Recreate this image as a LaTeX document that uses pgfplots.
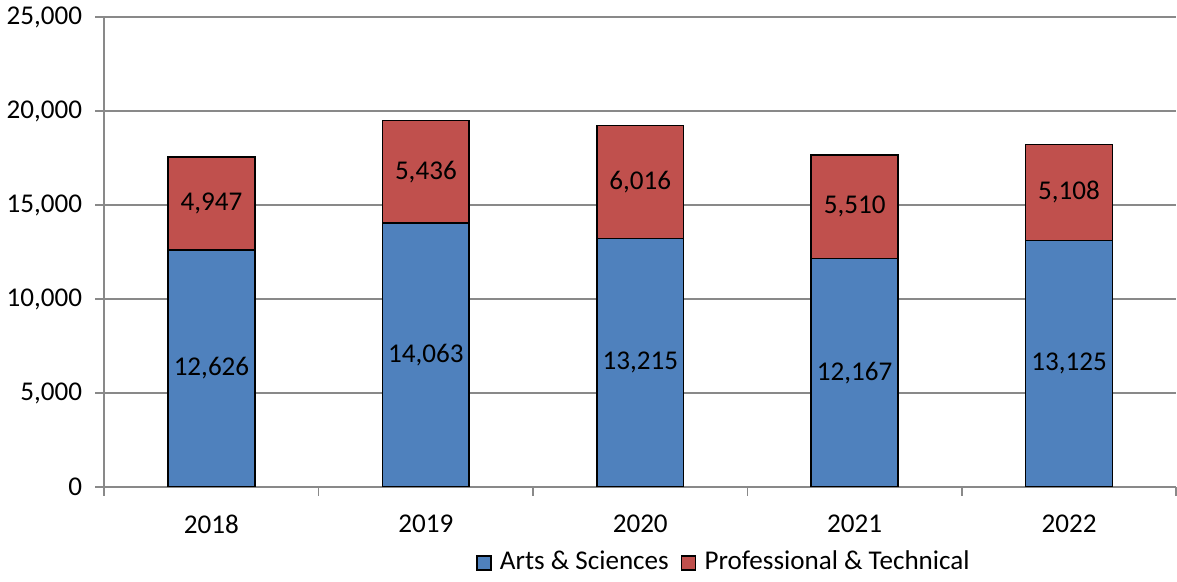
\documentclass[border=0pt]{standalone}
\usepackage{pgfplots}
\pgfplotsset{compat=1.18}
\usepackage{fontspec}
\setmainfont{Carlito}
\definecolor{asblue}{HTML}{4F81BD}
\definecolor{ptred}{HTML}{C0504D}
\definecolor{gridgray}{HTML}{898989}

\begin{document}
\begin{tikzpicture}[font=\fontsize{13.5}{16}\selectfont]
    \pgfplotsset{
        common/.style={
            width=534pt, height=234pt, scale only axis,
            xmin=-0.5, xmax=4.5, ymin=0, ymax=25000,
        }
    }
    % stacked bars
    \begin{axis}[
        common,
        ybar stacked,
        bar width=0.405,
        axis x line*=bottom, axis y line*=left,
        axis line style={gridgray, line width=0.8pt},
        ytick={0,5000,...,25000},
        scaled y ticks=false,
        ymajorgrids,
        grid style={gridgray, line width=0.8pt},
        tick align=outside,
        major tick length=4.5pt,
        tick style={gridgray, line width=0.8pt},
        xtick={0,...,4},
        xticklabels={2018,2019,2020,2021,2022},
        major x tick style={draw=none},
        minor xtick={-0.5,0.5,...,4.5},
        minor tick length=4.5pt,
        minor x tick style={draw=gridgray, line width=0.8pt},
        xticklabel style={yshift=-6pt},
        yticklabel style={xshift=-3pt},
        /pgf/number format/.cd, fixed, 1000 sep={,}, assume math mode=true,
        /pgfplots/.cd,
        legend style={at={(0.579,-0.16)}, anchor=center, draw=none,
            legend columns=2, column sep=2pt,
            /tikz/every even column/.append style={column sep=4pt}},
        legend image code/.code={
            \draw[#1, draw=black, line width=0.8pt] (0pt,-4pt) rectangle (7pt,3pt);
        },
    ]
        \addplot[fill=asblue, draw=black, line width=0.8pt]
            coordinates {(0,12626) (1,14063) (2,13215) (3,12167) (4,13125)};
        \addplot[fill=ptred, draw=black, line width=0.8pt]
            coordinates {(0,4947) (1,5436) (2,6016) (3,5510) (4,5108)};
        \legend{Arts \& Sciences, Professional \& Technical}
    \end{axis}
    % value labels at the middle of each segment
    \begin{axis}[
        common, hide axis,
        nodes near coords,
        point meta=explicit symbolic,
        every node near coord/.style={anchor=center, inner sep=0pt},
    ]
        \addplot[draw=none, mark=none] coordinates {
            (0,6313)[12,626] (1,7031.5)[14,063] (2,6607.5)[13,215]
            (3,6083.5)[12,167] (4,6562.5)[13,125]
        };
        \addplot[draw=none, mark=none] coordinates {
            (0,15099.5)[4,947] (1,16781)[5,436] (2,16223)[6,016]
            (3,14922)[5,510] (4,15679)[5,108]
        };
    \end{axis}
\end{tikzpicture}
\end{document}
